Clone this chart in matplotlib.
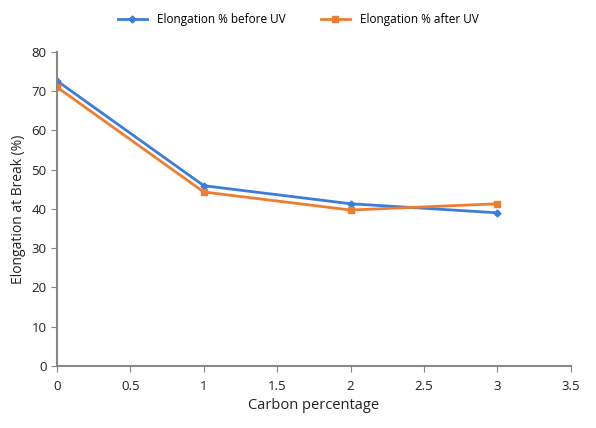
import matplotlib
matplotlib.use('Agg')
import matplotlib.pyplot as plt

plt.rcParams['font.family'] = ['Open Sans', 'DejaVu Sans']

carbon = [0, 1, 2, 3]
before_uv = [72.6, 45.9, 41.3, 39.0]
after_uv = [71.0, 44.3, 39.7, 41.3]

fig = plt.figure(figsize=(5.96, 4.28), dpi=100)
ax = fig.add_axes([0.0956, 0.145, 0.862, 0.734])

ax.plot(carbon, before_uv, color='#3B7DD8', marker='D', markersize=3.5,
        linewidth=2, label='Elongation % before UV')
ax.plot(carbon, after_uv, color='#ED7D31', marker='s', markersize=5,
        linewidth=2, label='Elongation % after UV')

ax.set_xlim(0, 3.5)
ax.set_ylim(0, 80)
ax.set_xticks([0, 0.5, 1, 1.5, 2, 2.5, 3, 3.5])
ax.set_xticklabels(['0', '0.5', '1', '1.5', '2', '2.5', '3', '3.5'])
ax.set_yticks(range(0, 81, 10))
ax.tick_params(labelsize=9.5, color='#888888', length=4, labelcolor='#222222')
ax.tick_params(axis='x', pad=6)
for s in ['top', 'right']:
    ax.spines[s].set_visible(False)
for s in ['left', 'bottom']:
    ax.spines[s].set_color('#888888')
    ax.spines[s].set_linewidth(1.5)

ax.set_xlabel('Carbon percentage', fontsize=10.5, color='#222222')
ax.set_ylabel('Elongation at Break (%)', fontsize=10, color='#222222')

fig.legend(loc='upper center', bbox_to_anchor=(0.5, 0.995), ncol=2,
           frameon=False, fontsize=8.5, handlelength=2.5, columnspacing=3)

plt.savefig('out.png', dpi=100)
